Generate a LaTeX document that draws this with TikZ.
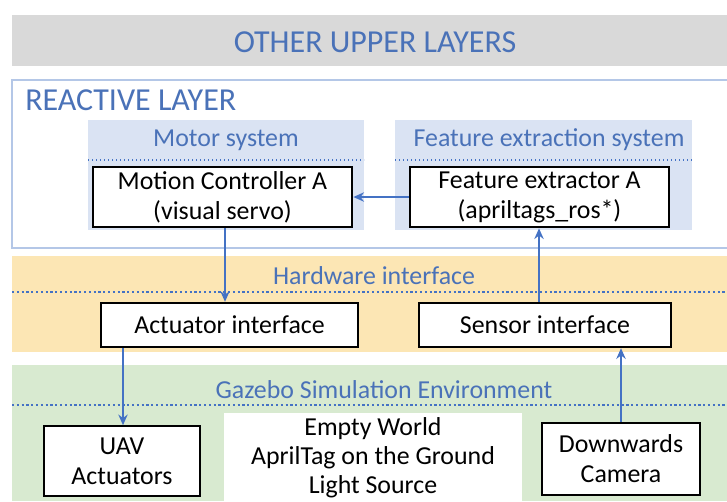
\documentclass[tikz,border=0pt]{standalone}
\usepackage{fontspec}
\setmainfont{Carlito}
\usetikzlibrary{arrows.meta}
\definecolor{tblue}{HTML}{4A72B8}
\definecolor{ablue}{HTML}{4472C4}
\definecolor{gband}{HTML}{D9D9D9}
\definecolor{lav}{HTML}{DAE3F3}
\definecolor{oband}{HTML}{FCE6B4}
\definecolor{grband}{HTML}{D8EAD0}
\definecolor{rborder}{HTML}{B4C7E7}
\tikzset{
  title/.style={text=tblue, font=\fontsize{24}{28}\selectfont, inner sep=0pt},
  sub/.style={text=tblue, font=\fontsize{19.4}{23}\selectfont, inner sep=0pt},
  box/.style={draw=black, fill=white, line width=2pt, align=center, font=\fontsize{19.4}{22.5}\selectfont, inner sep=0pt},
  plain/.style={align=center, font=\fontsize{19.4}{21.8}\selectfont, inner sep=0pt},
  arr/.style={draw=ablue, line width=1.5pt, -{Stealth[length=8pt,width=7pt]}},
  dots/.style={draw=ablue, dotted, line width=1pt},
  bigdots/.style={draw=ablue, dotted, line width=1.6pt},
}
\begin{document}
\begin{tikzpicture}[x=0.75pt,y=-0.75pt]
\useasboundingbox (0,0) rectangle (727,501);
\fill[white] (0,0) rectangle (727,501);
% upper layers
\fill[gband] (12,15) rectangle (727,66);
\node[title] (upper) at (375,42) {OTHER UPPER LAYERS};
% reactive layer
\draw[rborder, line width=1.2pt, fill=white] (12,80) rectangle (735,248);
\node[title, anchor=west] (react) at (25,100) {REACTIVE LAYER};
% panels
\fill[lav] (88,120) rectangle (364,230);
\node[sub] (motor) at (226,140) {Motor system};
\draw[dots] (88,160) -- (364,160);
\fill[lav] (395,120) rectangle (692,230);
\node[sub] (feat) at (549,140) {Feature extraction system};
\draw[dots] (395,160) -- (692,160);
\node[box, minimum width=259*0.75pt, minimum height=60*0.75pt] (mc) at (222.5,197) {Motion Controller A\\(visual servo)};
\node[box, minimum width=259*0.75pt, minimum height=60*0.75pt] (fe) at (539.5,197) {Feature extractor A\\(apriltags\_ros*)};
% hardware
\fill[oband] (12,256) rectangle (727,352);
\node[sub] (hw) at (374,276) {Hardware interface};
\draw[bigdots] (12,292) -- (727,292);
\node[box, line width=1.8pt, minimum width=257*0.75pt, minimum height=44*0.75pt] (ai) at (229.5,325) {Actuator interface};
\node[box, line width=1.8pt, minimum width=252*0.75pt, minimum height=44*0.75pt] (si) at (545,325) {Sensor interface};
% gazebo
\fill[grband] (12,365) rectangle (727,501);
\node[sub] (gz) at (384,390) {Gazebo Simulation Environment};
\draw[bigdots] (12,405) -- (727,405);
\node[box, line width=1.2pt, minimum width=156*0.75pt, minimum height=70*0.75pt] (uav) at (122,461) {UAV\\Actuators};
\fill[white] (224,413) rectangle (522,501);
\node[plain] (world) at (373,458) {Empty World\\AprilTag on the Ground\\Light Source};
\node[box, line width=1.2pt, minimum width=158*0.75pt, minimum height=72*0.75pt] (cam) at (621,459) {Downwards\\Camera};
% arrows
\draw[arr] (fe.west) -- (mc.east);
\draw[arr] (mc.south -| 225,0) -- (ai.north -| 225,0);
\draw[arr] (si.north -| 539,0) -- (fe.south -| 539,0);
\draw[arr, line width=1.1pt] (ai.south -| 123,0) -- (uav.north -| 123,0);
\draw[arr] (cam.north -| 621,0) -- (si.south -| 621,0);
\end{tikzpicture}
\end{document}
